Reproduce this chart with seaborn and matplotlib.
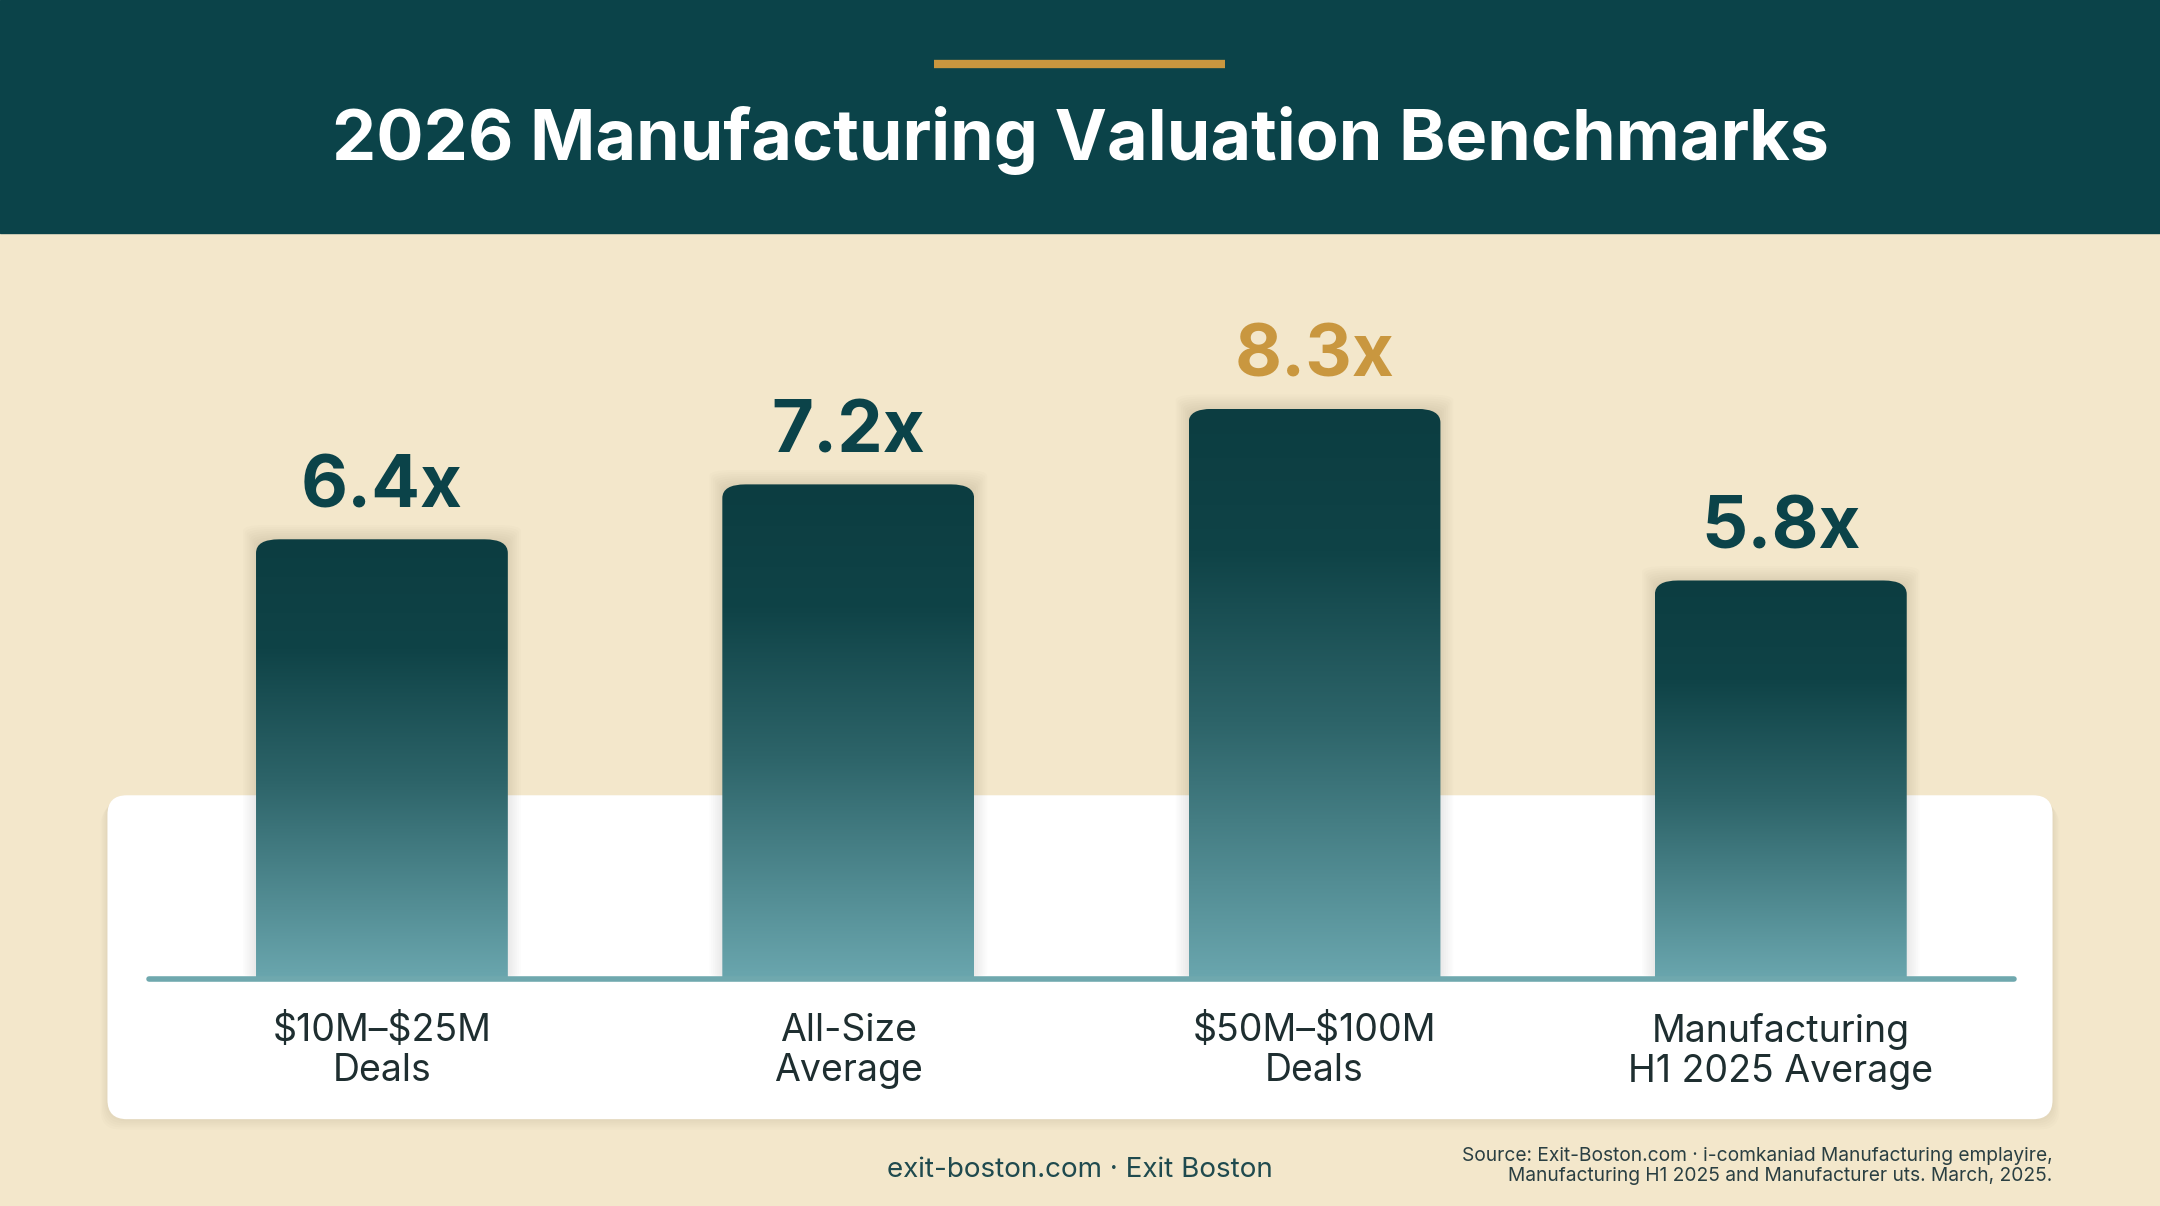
import numpy as np
import pandas as pd
import matplotlib
matplotlib.use("Agg")
import matplotlib.pyplot as plt
import seaborn as sns
from matplotlib.patches import FancyBboxPatch, Rectangle
from matplotlib.colors import LinearSegmentedColormap

categories = ["\\$10M–\\$25M\nDeals", "All-Size\nAverage", "\\$50M–\\$100M\nDeals", "Manufacturing\nH1 2025 Average"]
values = [6.4, 7.2, 8.3, 5.8]
labels = ["6.4x", "7.2x", "8.3x", "5.8x"]
highlight = 2

DARK = "#0b4349"
GOLD = "#c9973f"
CREAM = "#f3e7cb"

sns.set_theme(style="white")
plt.rcParams['font.family'] = ['Inter', 'DejaVu Sans']

fig = plt.figure(figsize=(21.6, 12.06), dpi=100)
fig.patch.set_facecolor(CREAM)
bg = fig.add_axes([0, 0, 1, 1]); bg.set_xlim(0, 1568); bg.set_ylim(875, 0); bg.axis("off")
bg.add_patch(Rectangle((0, 0), 1568, 169, color=DARK))
bg.plot([678, 889], [46.5, 46.5], color=GOLD, lw=6, solid_capstyle="butt")
bg.text(784, 102, "2026 Manufacturing Valuation Benchmarks", color="white", fontsize=50.5,
        fontweight="bold", ha="center", va="center")
for i in range(6):
    bg.add_patch(FancyBboxPatch((78 - i, 577 + i * 1.5), 1412 + 2 * i, 235, boxstyle="round,pad=0,rounding_size=14",
                                fc="#000000", ec="none", alpha=0.012))
bg.add_patch(FancyBboxPatch((78, 577), 1412, 235, boxstyle="round,pad=0,rounding_size=14", fc="white", ec="none"))
bg.text(784, 849, "exit-boston.com · Exit Boston", color="#1f4a4e", fontsize=20, ha="center", va="center")
bg.text(1490, 846, "Source: Exit-Boston.com · i-comkaniad Manufacturing emplayire,\nManufacturing H1 2025 and Manufacturer uts. March, 2025.",
        color="#2a3f42", fontsize=13.8, ha="right", va="center", linespacing=1.2)

ax = fig.add_axes([108/1568, 1-710/875, (1462-108)/1568, 540/875])
ax.patch.set_alpha(0)
df = pd.DataFrame({"cat": categories, "val": values})
sns.barplot(data=df, x="cat", y="val", ax=ax, width=0.54, color=DARK)
ax.set_xlim(-0.5, 3.5); ax.set_ylim(0, 540/49.8)
ax.axis("off")

cmap = LinearSegmentedColormap.from_list("g", [(0, "#6aa6ae"), (0.45, "#2d6469"), (0.75, "#0f4347"), (1, "#0c3d41")])
grad = np.linspace(0, 1, 256).reshape(-1, 1)
for i, p in enumerate(list(ax.patches)):
    x0, w, h = p.get_x(), p.get_width(), p.get_height()
    p.set_visible(False)
    for k in range(8):
        ax.add_patch(FancyBboxPatch((x0 - 0.004*k, 0), w + 0.008*k, h + 0.03*k,
                     boxstyle="round,pad=0,rounding_size=0.05", fc="black", ec="none", alpha=0.012, zorder=1,
                     mutation_aspect=1/0.6))
    clip = FancyBboxPatch((x0, -0.5), w, h + 0.5, boxstyle="round,pad=0,rounding_size=0.05",
                          fc="none", ec="none", mutation_aspect=4.0, transform=ax.transData)
    ax.add_patch(clip)
    im = ax.imshow(grad, extent=[x0, x0 + w, 0, h], origin="lower", cmap=cmap, aspect="auto", zorder=2)
    im.set_clip_path(clip)
    ax.text(x0 + w/2, h + 0.25, labels[i], ha="center", va="bottom", fontsize=52, fontweight="bold",
            color=GOLD if i == highlight else DARK)
    ax.text(x0 + w/2, -0.5, categories[i], ha="center", va="top", fontsize=27, color="#1e2e30",
            linespacing=1.15, clip_on=False)
ax.plot([-0.5, 3.5], [0, 0], color="#6fa8ae", lw=4, zorder=3, clip_on=False)
ax.set_xlim(-0.5, 3.5); ax.set_ylim(0, 540/49.8)

fig.savefig("out.png", dpi=100, facecolor=CREAM)
